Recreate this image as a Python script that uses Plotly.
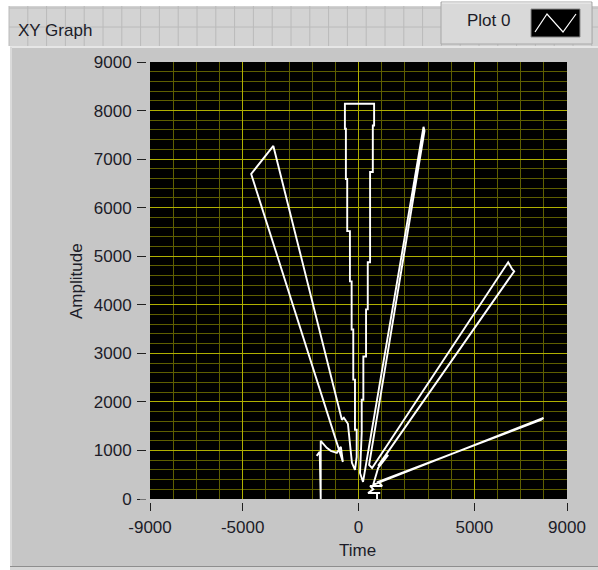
import plotly.graph_objects as go

# ---------------- data ----------------
series_name = "Plot 0"
time_vals = [
    -1805, -1675, -1631, -1631, -1370, -1196, -935, -761, -674,
    -4633, -3676, -718, -631, -457, -283, -152,
    -78, -78, -152, -152, -226, -226, -296, -296, -370, -370, -487, -487,
    -544, -544, -587, -587, 674, 674, 618, 618, 500, 500, 400, 400,
    326, 326, 209, 209, 139, 139, 65,
    196, 2806, 2849, 457,
    587, 6460, 6634, 6721, 848, 1283, 848,
    631, 7982, 7895, 848,
    1022, 500, 640, 413, 935, 800, 800,
]
amplitude_vals = [
    888, 971, 0, 1198, 1054, 992, 950, 1074, 764,
    6694, 7272, 1632, 1673, 1549, 744, 599,
    868, 1426, 1426, 2459, 2459, 3492, 3492, 4483, 4483, 5516, 5516, 6591,
    6591, 7624, 7624, 8140, 8140, 7692, 7692, 6735, 6735, 4876, 4876, 3905,
    3905, 2934, 2934, 2045, 2045, 1364, 537,
    351, 7665, 7582, 702,
    640, 4876, 4731, 4690, 682, 909, 640,
    289, 1673, 1632, 351,
    269, 269, 200, 124, 124, 124, 0,
]
x_tick_vals = [-9000, -5000, 0, 5000, 9000]
x_tick_text = ["-9000", "-5000", "0", "5000", "9000"]
x_major_grid = [-5000, 0, 5000]
y_tick_vals = [0, 1000, 2000, 3000, 4000, 5000, 6000, 7000, 8000, 9000]
y_tick_text = [str(v) for v in y_tick_vals]
x_minor_step = 1000
y_minor_step = 200
x_title = "Time"
y_title = "Amplitude"
graph_label = "XY Graph"

# ---------------- geometry ----------------
W, H = 598, 570
L, R, T, B = 150, 567, 62, 499  # plot area in pixels


def px(x):
    return (x - L) / (R - L)


def py(y):
    return (B - y) / (B - T)


FONT = "Liberation Sans"
TXT = "#1c1c28"
PANEL = "#c6c6c6"
MAJOR = "#b0b000"
MINOR = "#5e5e00"

fig = go.Figure()
# carrier for the minor grid (main axes)
fig.add_trace(go.Scatter(x=[], y=[], xaxis="x", yaxis="y", showlegend=False, hoverinfo="skip"))
# the data, on the overlaid axes that carry ticks, labels and major grid
fig.add_trace(go.Scatter(
    x=time_vals, y=amplitude_vals, mode="lines", name=series_name, xaxis="x2", yaxis="y2",
    line=dict(color="white", width=1.9), showlegend=False, hoverinfo="skip",
))

shapes = []
shapes.append(dict(type="rect", xref="paper", yref="paper", x0=px(0), x1=px(W), y0=py(0), y1=py(H),
                   fillcolor="white", line=dict(width=0), layer="below"))
shapes.append(dict(type="rect", xref="paper", yref="paper", x0=px(9), x1=px(W), y0=py(6), y1=py(46),
                   fillcolor="#d3d3d3", line=dict(width=0), layer="below"))
gx = 9.0
while gx < W:
    shapes.append(dict(type="line", xref="paper", yref="paper", x0=px(gx), x1=px(gx), y0=py(6), y1=py(46),
                       line=dict(color="#bababa", width=1), layer="below"))
    gx += 18.8
for gy in (8, 27):
    shapes.append(dict(type="line", xref="paper", yref="paper", x0=px(9), x1=px(W), y0=py(gy), y1=py(gy),
                       line=dict(color="#bababa", width=1), layer="below"))
shapes.append(dict(type="rect", xref="paper", yref="paper", x0=px(10), x1=px(W), y0=py(46), y1=py(566),
                   fillcolor=PANEL, line=dict(width=0), layer="below"))
shapes.append(dict(type="line", xref="paper", yref="paper", x0=px(10), x1=px(W), y0=py(47), y1=py(47),
                   line=dict(color="#e6e6e6", width=2), layer="below"))
shapes.append(dict(type="line", xref="paper", yref="paper", x0=px(11), x1=px(11), y0=py(47), y1=py(566),
                   line=dict(color="#dadada", width=2), layer="below"))
shapes.append(dict(type="line", xref="paper", yref="paper", x0=px(10), x1=px(W), y0=py(566.5), y1=py(566.5),
                   line=dict(color="#8e8e8e", width=1), layer="below"))
shapes.append(dict(type="rect", xref="paper", yref="paper", x0=px(10), x1=px(W), y0=py(567), y1=py(H),
                   fillcolor="#d6d6d6", line=dict(width=0), layer="below"))
shapes.append(dict(type="rect", xref="paper", yref="paper", x0=0, x1=1, y0=0, y1=1,
                   fillcolor="black", line=dict(width=0), layer="below"))
shapes.append(dict(type="rect", xref="paper", yref="paper", x0=px(441), x1=px(592), y0=py(2), y1=py(44),
                   fillcolor="#d9d9d9", line=dict(color="#a8a8a8", width=1), layer="below"))
shapes.append(dict(type="line", xref="paper", yref="paper", x0=px(442), x1=px(591), y0=py(3), y1=py(3),
                   line=dict(color="#f2f2f2", width=1), layer="below"))
shapes.append(dict(type="rect", xref="paper", yref="paper", x0=px(531), x1=px(580), y0=py(9), y1=py(37),
                   fillcolor="black", line=dict(color="#8a8a8a", width=1), layer="above"))
shapes.append(dict(type="path", xref="paper", yref="paper",
                   path="M {},{} L {},{} L {},{} L {},{}".format(px(535), py(32), px(547), py(14),
                                                                    px(563), py(32), px(576), py(14)),
                   line=dict(color="white", width=1.2), layer="above"))
shapes.append(dict(type="rect", xref="paper", yref="paper", x0=px(140), x1=px(575), y0=py(499.6), y1=py(503),
                   fillcolor=PANEL, line=dict(width=0), layer="above"))
shapes.append(dict(type="rect", xref="paper", yref="paper", x0=px(146), x1=px(149.6), y0=py(55), y1=py(505),
                   fillcolor=PANEL, line=dict(width=0), layer="above"))

annotations = [
    dict(text=graph_label, xref="paper", yref="paper", x=px(16), y=py(31), xanchor="left", yanchor="middle",
         showarrow=False, font=dict(family=FONT, size=17, color=TXT)),
    dict(text=series_name, xref="paper", yref="paper", x=px(488), y=py(21), xanchor="center", yanchor="middle",
         showarrow=False, font=dict(family=FONT, size=17, color=TXT)),
    dict(text=x_title, xref="paper", yref="paper", x=px(357), y=py(550), xanchor="center", yanchor="middle",
         showarrow=False, font=dict(family=FONT, size=17, color=TXT)),
    dict(text=y_title, xref="paper", yref="paper", x=px(76), y=py(281), xanchor="center", yanchor="middle",
         textangle=-90, showarrow=False, font=dict(family=FONT, size=17, color=TXT)),
]

xr = [x_tick_vals[0], x_tick_vals[-1]]
yr = [y_tick_vals[0], y_tick_vals[-1]]

fig.update_layout(
    width=W, height=H, autosize=False,
    margin=dict(l=L, r=W - R, t=T, b=H - B, pad=0),
    paper_bgcolor=PANEL, plot_bgcolor="black",
    shapes=shapes, annotations=annotations,
    showlegend=False,
    xaxis=dict(range=xr, tickmode="linear", tick0=xr[0], dtick=x_minor_step, showticklabels=False, ticks="",
               showgrid=True, gridcolor=MINOR, gridwidth=1, zeroline=False, showline=False, fixedrange=True),
    yaxis=dict(range=yr, tickmode="linear", tick0=yr[0], dtick=y_minor_step, showticklabels=False, ticks="",
               showgrid=True, gridcolor=MINOR, gridwidth=1, zeroline=False, showline=False, fixedrange=True),
    xaxis2=dict(
        range=xr, overlaying="x", anchor="y2", side="bottom",
        tickmode="array", tickvals=x_tick_vals, ticktext=x_tick_text,
        ticks="outside", ticklen=11, tickwidth=1, tickcolor="#202020", ticklabelstandoff=2,
        showgrid=False, zeroline=False, showline=False,
        tickfont=dict(family=FONT, size=17, color=TXT), fixedrange=True,
    ),
    yaxis2=dict(
        range=yr, overlaying="y", anchor="x2", side="left",
        tickmode="array", tickvals=y_tick_vals, ticktext=y_tick_text,
        ticks="outside", ticklen=12, tickwidth=1, tickcolor="#202020", ticklabelstandoff=2,
        showgrid=True, gridcolor=MAJOR, gridwidth=1.3, zeroline=False, showline=False,
        tickfont=dict(family=FONT, size=17, color=TXT), fixedrange=True,
    ),
)
# major vertical grid lines at the labelled interior positions, via a third overlaid x axis
fig.update_layout(xaxis3=dict(range=xr, overlaying="x", anchor="y2", tickmode="array", tickvals=x_major_grid,
                              showticklabels=False, ticks="", showgrid=True, gridcolor=MAJOR, gridwidth=1.3,
                              zeroline=False, showline=False, fixedrange=True))
fig.add_trace(go.Scatter(x=[], y=[], xaxis="x3", yaxis="y2", showlegend=False, hoverinfo="skip"))
fig.data = (fig.data[0], fig.data[2], fig.data[1])

fig.write_html("out.html", config={"displayModeBar": False},
               post_script="document.body.style.margin='0';document.body.style.padding='0';")
